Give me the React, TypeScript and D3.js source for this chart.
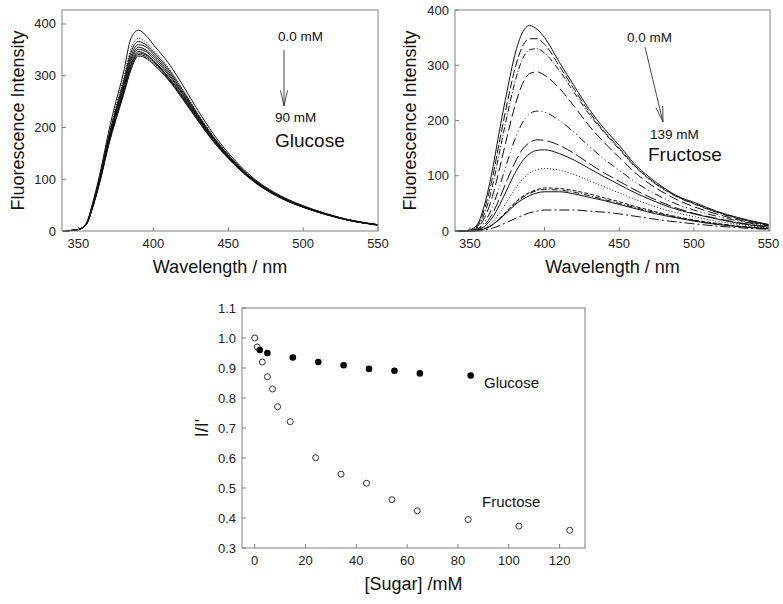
import React from "react"
import * as d3 from "d3"

// emission spectra, sampled wavelengths (nm)
const wavelengths = [340, 345, 350, 355, 360, 365, 370, 375, 380, 385, 390, 395, 400, 410, 420, 430, 440, 450, 460, 470, 480, 490, 500, 515, 530, 550]

// glucose titration 0.0 -> 90 mM
const glucoseSpectra = [
    [0, 1, 3, 14, 60, 120, 190, 250, 305, 372, 388, 378, 360, 325, 280, 232, 188, 151, 120, 95, 76, 61, 49, 34, 22, 12],
    [0, 1, 3, 13, 57, 115, 182, 240, 293, 352, 372, 365, 350, 316, 272, 226, 184, 148, 118, 94, 75, 60, 48, 34, 22, 12],
    [0, 1, 3, 13, 56, 113, 180, 236, 288, 345, 366, 360, 346, 313, 270, 224, 182, 147, 117, 93, 74, 59, 48, 33, 22, 12],
    [0, 1, 3, 13, 55, 111, 177, 232, 283, 338, 360, 356, 342, 309, 267, 222, 181, 146, 116, 92, 74, 59, 47, 33, 22, 12],
    [0, 1, 3, 12, 54, 109, 174, 228, 278, 332, 355, 350, 338, 305, 264, 220, 179, 145, 115, 92, 73, 58, 47, 33, 21, 12],
    [0, 1, 3, 12, 53, 108, 172, 225, 274, 328, 351, 347, 334, 302, 262, 218, 178, 144, 114, 91, 73, 58, 47, 33, 21, 12],
    [0, 1, 3, 12, 52, 106, 169, 222, 270, 322, 347, 342, 330, 298, 259, 216, 176, 143, 114, 91, 72, 58, 47, 33, 21, 12],
    [0, 1, 3, 12, 52, 105, 168, 220, 268, 319, 344, 340, 328, 296, 257, 215, 175, 142, 113, 90, 72, 58, 46, 32, 21, 12],
    [0, 1, 3, 12, 51, 104, 166, 217, 265, 315, 341, 337, 325, 294, 255, 213, 174, 141, 113, 90, 72, 57, 46, 32, 21, 11],
    [0, 1, 3, 12, 50, 103, 164, 215, 262, 311, 338, 334, 322, 292, 253, 212, 173, 140, 112, 89, 71, 57, 46, 32, 21, 11],
]
const glucoseDash = ["", "1,1.5", "", "", "", "", "", "", "", ""]

// fructose titration 0.0 -> 139 mM
const fructoseSpectra = [
    [0, 0, 2, 12, 50, 110, 185, 255, 318, 358, 372, 365, 350, 305, 262, 220, 185, 155, 122, 98, 78, 62, 52, 36, 24, 12],
    [0, 0, 2, 10, 42, 95, 165, 232, 292, 333, 348, 348, 338, 298, 256, 215, 180, 150, 119, 95, 76, 61, 50, 35, 23, 11],
    [0, 0, 1, 8, 33, 80, 145, 210, 268, 310, 328, 330, 322, 290, 250, 211, 178, 148, 118, 94, 75, 60, 49, 34, 22, 11],
    [0, 0, 1, 6, 25, 62, 115, 172, 225, 265, 285, 288, 282, 258, 225, 190, 160, 133, 107, 86, 69, 55, 44, 31, 20, 10],
    [0, 0, 1, 4, 17, 43, 82, 125, 165, 195, 212, 217, 215, 200, 178, 153, 130, 110, 90, 73, 59, 47, 38, 27, 18, 9],
    [0, 0, 0, 3, 12, 31, 60, 93, 123, 147, 160, 165, 164, 155, 140, 122, 105, 90, 75, 62, 50, 40, 32, 23, 15, 8],
    [0, 0, 0, 2, 9, 24, 48, 76, 104, 126, 140, 146, 147, 140, 128, 113, 98, 84, 70, 58, 47, 38, 31, 22, 14, 7],
    [0, 0, 0, 1, 6, 16, 33, 54, 75, 93, 105, 111, 113, 110, 102, 91, 80, 69, 58, 48, 39, 32, 26, 18, 12, 6],
    [0, 0, 0, 1, 4, 11, 23, 37, 51, 62, 70, 75, 78, 77, 73, 67, 60, 53, 45, 38, 31, 25, 20, 14, 9, 5],
    [0, 0, 0, 1, 4, 11, 22, 35, 49, 60, 68, 73, 75, 74, 70, 64, 57, 50, 43, 36, 30, 24, 19, 13, 8, 4],
    [0, 0, 0, 1, 4, 11, 22, 34, 47, 57, 64, 69, 71, 71, 67, 61, 55, 48, 41, 34, 28, 23, 18, 12, 8, 4],
    [0, 0, 0, 0, 2, 5, 10, 16, 22, 28, 33, 36, 38, 38, 38, 36, 34, 31, 27, 23, 19, 16, 13, 9, 6, 3],
]
const fructoseDash = ["", "8,3", "6,2,1,2", "10,4", "8,3,1,3,1,3", "12,4", "", "1,2", "4,2", "6,2,1,2", "", "10,3,2,3"]

// normalised intensity vs sugar concentration
const glucoseConc = [2, 5, 15, 25, 35, 45, 55, 65, 85]
const glucoseRatio = [0.96, 0.95, 0.935, 0.92, 0.909, 0.897, 0.891, 0.882, 0.875]
const fructoseConc = [0, 1, 3, 5, 7, 9, 14, 24, 34, 44, 54, 64, 84, 104, 124]
const fructoseRatio = [1.0, 0.97, 0.92, 0.871, 0.83, 0.771, 0.721, 0.601, 0.546, 0.516, 0.461, 0.424, 0.395, 0.373, 0.359]

const spectraXTicks = [350, 400, 450, 500, 550]
const spectraYTicks = [0, 100, 200, 300, 400]
const ratioXTicks = [0, 20, 40, 60, 80, 100, 120]
const ratioYTicks = [0.3, 0.4, 0.5, 0.6, 0.7, 0.8, 0.9, 1.0, 1.1]

const font = "'Liberation Sans', Arial, sans-serif"
const boxColor = "#808080"

const Frame = ({x, y, xTicks, yTicks, fmtX, fmtY, xLabel, yLabel, yLabelX, yLabelSize}) => {
    const [l, r] = x.range()
    const [b, t] = y.range()
    return (
        <g fontFamily={font}>
            <rect x={l} y={t} width={r - l} height={b - t} fill="none" stroke={boxColor} strokeWidth={1}/>
            {xTicks.map(v => (
                <g key={"x" + v}>
                    <line x1={x(v)} x2={x(v)} y1={b} y2={b - 4} stroke={boxColor}/>
                    <text x={x(v)} y={b + 17} fontSize={13} textAnchor="middle" fill="#222">{fmtX(v)}</text>
                </g>
            ))}
            {yTicks.map(v => (
                <g key={"y" + v}>
                    <line x1={l} x2={l + 4} y1={y(v)} y2={y(v)} stroke={boxColor}/>
                    <text x={l - 6} y={y(v) + 4.5} fontSize={13} textAnchor="end" fill="#222">{fmtY(v)}</text>
                </g>
            ))}
            <text x={(l + r) / 2} y={b + 42} fontSize={18} textAnchor="middle" fill="#111">{xLabel}</text>
            <text transform={`translate(${yLabelX},${(t + b) / 2}) rotate(-90)`} fontSize={yLabelSize} textAnchor="middle" fill="#111">{yLabel}</text>
        </g>
    )
}

const Spectra = ({x, y, curves, dashes}) => {
    const line = d3.line<number>()
        .x((d, i) => x(wavelengths[i]))
        .y(d => y(d))
        .curve(d3.curveMonotoneX)
    return (
        <g>
            {curves.map((c, i) => (
                <path key={i} d={line(c)} fill="none" stroke="#111" strokeWidth={1}
                      strokeDasharray={dashes[i] || undefined}/>
            ))}
        </g>
    )
}

const Arrow = ({x1, y1, x2, y2}) => {
    const a = Math.atan2(y2 - y1, x2 - x1)
    const len = 16, spread = 0.22
    const p1 = [x2 - len * Math.cos(a - spread), y2 - len * Math.sin(a - spread)]
    const p2 = [x2 - len * Math.cos(a + spread), y2 - len * Math.sin(a + spread)]
    return (
        <g stroke="#333" strokeWidth={0.9} fill="none">
            <line x1={x1} y1={y1} x2={x2} y2={y2}/>
            <path d={`M${p1[0]},${p1[1]}L${x2},${y2}L${p2[0]},${p2[1]}`}/>
        </g>
    )
}

export default function App() {
    const xA = d3.scaleLinear().domain([339, 550]).range([62, 378])
    const yA = d3.scaleLinear().domain([0, 427]).range([231, 10])
    const xB = d3.scaleLinear().domain([340, 551]).range([455, 770])
    const yB = d3.scaleLinear().domain([0, 400]).range([231, 10])
    const xC = d3.scaleLinear().domain([-5, 130]).range([242, 585])
    const yC = d3.scaleLinear().domain([0.3, 1.1]).range([548, 308])
    const intFmt = d3.format("d")
    const oneDec = d3.format(".1f")

    return (
        <svg width={783} height={604} style={{position: "absolute", left: 0, top: 0, background: "#fff"}}>
            {/* glucose spectra */}
            <Spectra x={xA} y={yA} curves={glucoseSpectra} dashes={glucoseDash}/>
            <Frame x={xA} y={yA} xTicks={spectraXTicks} yTicks={spectraYTicks} fmtX={intFmt} fmtY={intFmt}
                   xLabel="Wavelength / nm" yLabel="Fluorescence Intensity" yLabelX={24} yLabelSize={18}/>
            <g fontFamily={font} fill="#111">
                <text x={278} y={41} fontSize={13.5}>0.0 mM</text>
                <Arrow x1={284} y1={50} x2={284} y2={106}/>
                <text x={275} y={122} fontSize={13.5}>90 mM</text>
                <text x={275} y={147} fontSize={19}>Glucose</text>
            </g>

            {/* fructose spectra */}
            <Spectra x={xB} y={yB} curves={fructoseSpectra} dashes={fructoseDash}/>
            <Frame x={xB} y={yB} xTicks={spectraXTicks} yTicks={spectraYTicks} fmtX={intFmt} fmtY={intFmt}
                   xLabel="Wavelength / nm" yLabel="Fluorescence Intensity" yLabelX={416} yLabelSize={18}/>
            <g fontFamily={font} fill="#111">
                <text x={627} y={42} fontSize={13.5}>0.0 mM</text>
                <Arrow x1={645} y1={47} x2={663} y2={122}/>
                <text x={650} y={139} fontSize={13.5}>139 mM</text>
                <text x={648} y={161} fontSize={19}>Fructose</text>
            </g>

            {/* I/I' vs concentration */}
            <Frame x={xC} y={yC} xTicks={ratioXTicks} yTicks={ratioYTicks} fmtX={intFmt} fmtY={oneDec}
                   xLabel="[Sugar] /mM" yLabel="I/I'" yLabelX={208} yLabelSize={18}/>
            {fructoseConc.map((c, i) => (
                <circle key={"f" + i} cx={xC(c)} cy={yC(fructoseRatio[i])} r={3} fill="#fff" stroke="#333" strokeWidth={1}/>
            ))}
            {glucoseConc.map((c, i) => (
                <circle key={"g" + i} cx={xC(c)} cy={yC(glucoseRatio[i])} r={3.3} fill="#000"/>
            ))}
            <g fontFamily={font} fill="#111" fontSize={15}>
                <text x={484} y={388}>Glucose</text>
                <text x={482} y={507}>Fructose</text>
            </g>
        </svg>
    )
}
